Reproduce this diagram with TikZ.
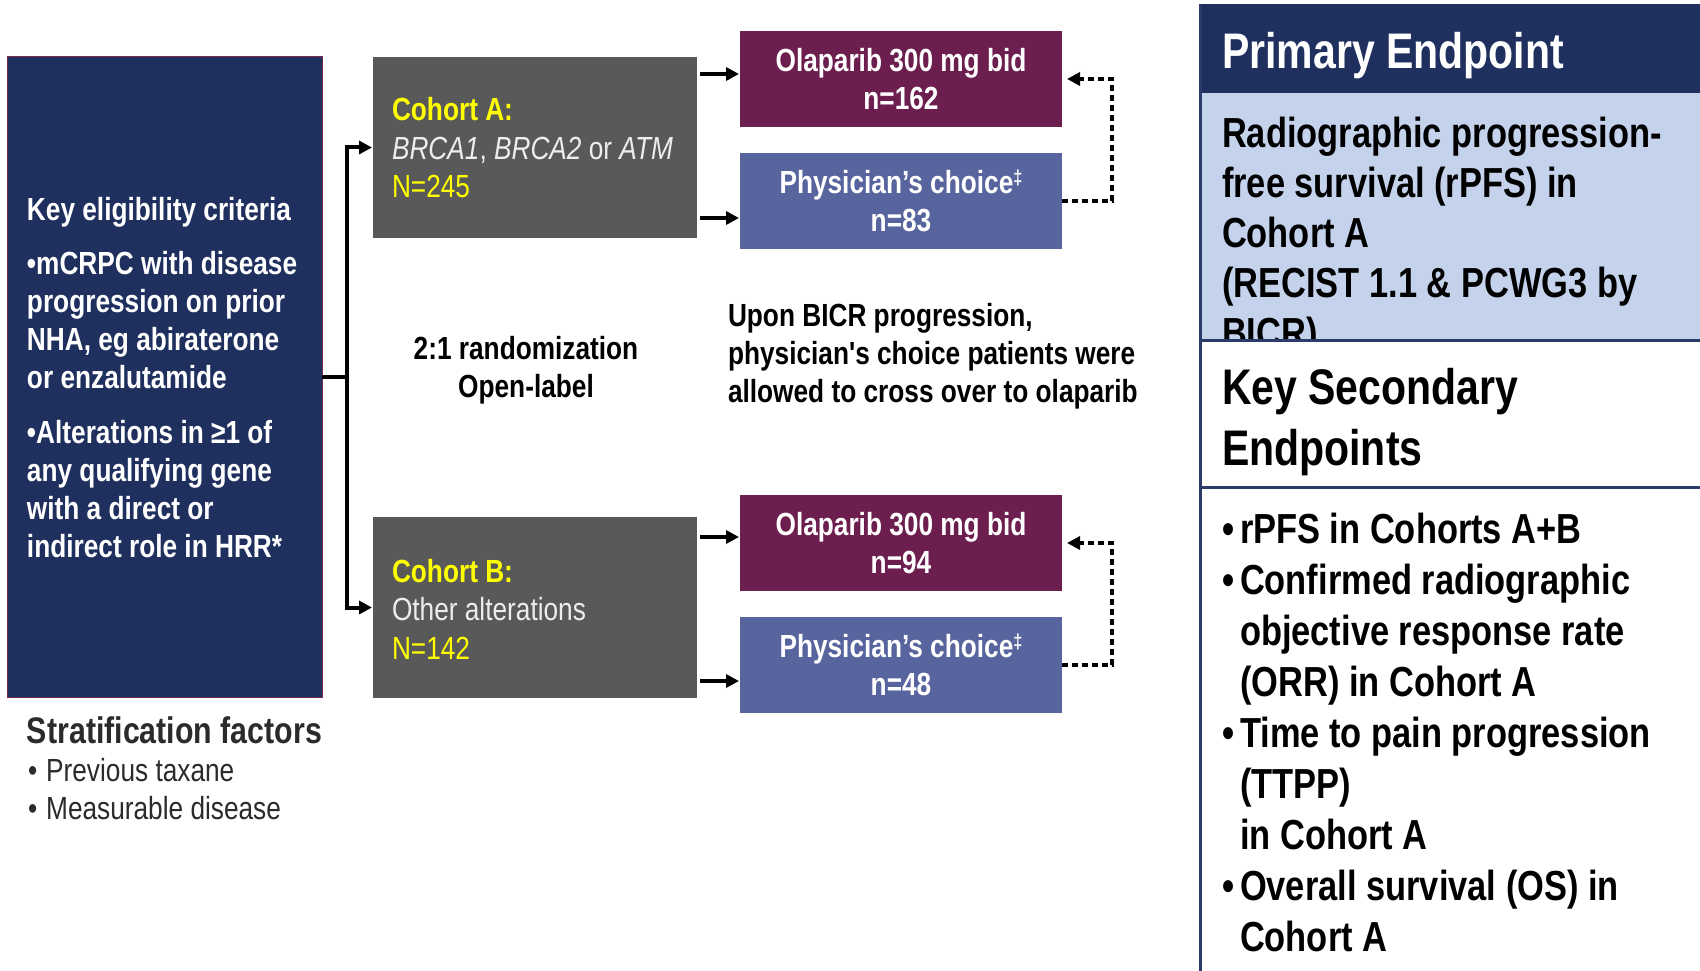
\documentclass[tikz,border=0pt]{standalone}
\usepackage{fontspec}
\setmainfont{Liberation Sans}[FakeStretch=0.82, Ligatures=TeXOff]
\usetikzlibrary{arrows.meta}
\definecolor{navy}{HTML}{1F2F5E}
\definecolor{navyline}{HTML}{2B3C6B}
\definecolor{boxred}{HTML}{7A2A4C}
\definecolor{cohgrey}{HTML}{595959}
\definecolor{olapurple}{HTML}{6C1E4E}
\definecolor{physblue}{HTML}{58649D}
\definecolor{lightblue}{HTML}{C4D2EC}
\definecolor{cohyellow}{HTML}{FFFF00}
\definecolor{cohwhite}{HTML}{EDEDED}
\definecolor{stratgrey}{HTML}{2B2B2B}
\newcommand{\ddg}{\raisebox{9pt}{\fontsize{20}{20}\selectfont ‡}}
\newcommand{\bul}{\llap{•\hspace{5pt}}}
\begin{document}
\begin{tikzpicture}[x=1pt,y=-1pt,
 box/.style={inner sep=0pt, outer sep=0pt, draw=none},
 armbox/.style={box, minimum width=322pt, minimum height=96pt, text=white, align=center, font=\bfseries\fontsize{32}{38}\selectfont},
 cohbox/.style={box, fill=cohgrey, minimum width=324pt, minimum height=181pt},
 txt/.style={inner sep=0pt, outer sep=0pt, anchor=west, align=left},
 conn/.style={line width=4pt, -{Triangle[length=13pt,width=13pt]}, shorten >=1pt},
 dotconn/.style={line width=4.5pt, dash pattern=on 6pt off 4pt, -{Triangle[length=13pt,width=13pt]}, shorten >=5pt},
 panelline/.style={navyline, line width=3pt},
]
\fill[white] (0,0) rectangle (1700,971);
\useasboundingbox (0,0) rectangle (1700,971);

% left eligibility box
\node[box, fill=navy, draw=boxred, line width=1pt, minimum width=315pt, minimum height=640pt] (elig) at (164.5,377) {};
\node[txt, text=white, font=\bfseries\fontsize{32}{38}\selectfont] (eligtxt) at (27,378)
 {Key eligibility criteria\\[16pt]
  •mCRPC with disease\\progression on prior\\NHA, eg abiraterone\\or enzalutamide\\[17pt]
  •Alterations in ≥1 of\\any qualifying gene\\with a direct or\\indirect role in HRR*};

% cohorts
\node[cohbox] (cohA) at (535,147.5) {};
\node[cohbox] (cohB) at (535,607.5) {};
\node[txt, font=\fontsize{32}{38.5}\selectfont] (cohAtxt) at (392,148)
 {\textcolor{cohyellow}{\bfseries Cohort A:}\\
  \textcolor{cohwhite}{\textit{BRCA1}, \textit{BRCA2} or \textit{ATM}}\\
  \textcolor{cohyellow}{N=245}};
\node[txt, font=\fontsize{32}{38.5}\selectfont] (cohBtxt) at (392,609)
 {\textcolor{cohyellow}{\bfseries Cohort B:}\\
  \textcolor{cohwhite}{Other alterations}\\
  \textcolor{cohyellow}{N=142}};

% arms
\node[armbox, fill=olapurple] (olaA) at (901,79) {Olaparib 300 mg bid\\n=162};
\node[armbox, fill=physblue] (physA) at (901,201) {Physician’s choice\ddg\\n=83};
\node[armbox, fill=olapurple] (olaB) at (901,543) {Olaparib 300 mg bid\\n=94};
\node[armbox, fill=physblue] (physB) at (901,665) {Physician’s choice\ddg\\n=48};

% middle texts
\node[inner sep=0pt, align=center, font=\bfseries\fontsize{32}{38}\selectfont] (rand) at (526,370)
 {2:1 randomization\\Open-label};
\node[txt, font=\bfseries\fontsize{32}{38}\selectfont] (cross) at (728,356)
 {Upon BICR progression,\\physician's choice patients were\\allowed to cross over to olaparib};

% stratification
\node[txt, text=stratgrey, font=\bfseries\fontsize{37}{40}\selectfont] (strat) at (27,730) {Stratification factors};
\node[txt, text=stratgrey, font=\fontsize{32}{38}\selectfont] (stratlist) at (28,789)
 {•\hspace{9pt}Previous taxane\\•\hspace{9pt}Measurable disease};

% connectors
\coordinate (split) at (347,377);
\draw[line width=4pt] (elig.east) -- (split);
\draw[conn] (split) |- (cohA.west);
\draw[conn] (split) |- (cohB.west);

\coordinate (olaAin) at ([yshift=5pt]olaA.west);
\coordinate (physAin) at ([yshift=-17pt]physA.west);
\coordinate (olaBin) at ([yshift=6pt]olaB.west);
\coordinate (physBin) at ([yshift=-16pt]physB.west);
\draw[conn, shorten <=3pt] (cohA.east |- olaAin) -- (olaAin);
\draw[conn, shorten <=3pt] (cohA.east |- physAin) -- (physAin);
\draw[conn, shorten <=3pt] (cohB.east |- olaBin) -- (olaBin);
\draw[conn, shorten <=3pt] (cohB.east |- physBin) -- (physBin);

\draw[dotconn] (physA.east) -- ++(50,0) |- (olaA.east);
\draw[dotconn] (physB.east) -- ++(50,0) |- (olaB.east);

% right panel
\fill[navy] (1200,4) rectangle (1700,93);
\fill[lightblue] (1200,93) rectangle (1700,340);
\node[anchor=base west, inner sep=0pt, text=white, font=\bfseries\fontsize{50}{60}\selectfont] (primary) at (1222,69) {Primary Endpoint};
\begin{scope}
\clip (1200,93) rectangle (1700,340);
\node[txt, font=\bfseries\fontsize{42}{50}\selectfont] (primtxt) at (1222,237)
 {Radiographic progression-\\free survival (rPFS) in\\Cohort A\\(RECIST 1.1 \& PCWG3 by\\BICR)};
\end{scope}
\draw[panelline] (1200,340) -- (1700,340);
\draw[panelline] (1200,487) -- (1700,487);
\draw[panelline] (1200,4) -- (1200,971);
\node[txt, font=\bfseries\fontsize{50}{61}\selectfont] (second) at (1222,422.5) {Key Secondary\\Endpoints};
\node[txt, font=\bfseries\fontsize{42}{51}\selectfont] (seclist) at (1240,732)
 {\bul rPFS in Cohorts A+B\\
  \bul Confirmed radiographic\\
  objective response rate\\
  (ORR) in Cohort A\\
  \bul Time to pain progression\\
  (TTPP)\\
  in Cohort A\\
  \bul Overall survival (OS) in\\
  Cohort A};
\end{tikzpicture}
\end{document}
